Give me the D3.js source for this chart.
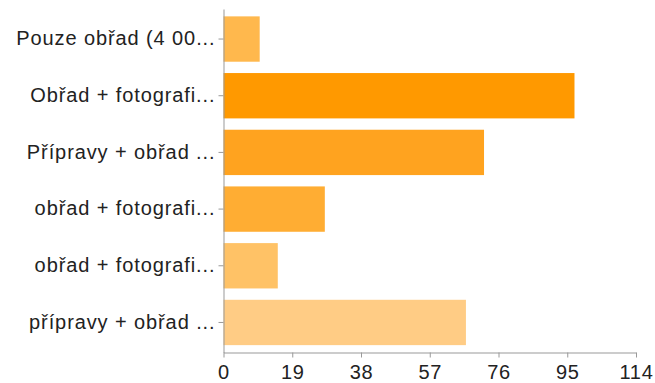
<!DOCTYPE html>
<html>
<head>
<meta charset="utf-8">
<script src="https://cdn.jsdelivr.net/npm/d3@7"></script>
<style>
  html, body { margin: 0; padding: 0; background: #fff; }
  svg { display: block; }
  text { font-family: "Liberation Sans", Arial, Helvetica, sans-serif; }
</style>
</head>
<body>
<div id="chart"></div>
<script>
const categories = [
  "Pouze obřad (4 00...",
  "Obřad + fotografi...",
  "Přípravy + obřad ...",
  "obřad + fotografi...",
  "obřad + fotografi...",
  "přípravy + obřad ..."
];
const values = [10, 97, 72, 28, 15, 67];
const barColors = ["#ffb84d", "#ff9900", "#ffa31f", "#ffad33", "#ffc266", "#ffcc85"];
const tickValues = [0, 19, 38, 57, 76, 95, 114];

const W = 655, H = 383;
const plotLeft = 223.5, plotRight = 636, plotTop = 9, plotBottom = 352.5;

const svg = d3.select("#chart").append("svg")
  .attr("width", W).attr("height", H);

const x = d3.scaleLinear().domain([0, 114]).range([plotLeft, plotRight]);
const y = d3.scaleBand().domain(d3.range(categories.length))
  .range([plotTop, plotBottom]).paddingInner(0.2).paddingOuter(0.13);

// bars
svg.append("g").selectAll("rect")
  .data(values)
  .join("rect")
  .attr("x", x(0))
  .attr("y", (d, i) => y(i))
  .attr("width", d => x(d) - x(0))
  .attr("height", y.bandwidth())
  .attr("fill", (d, i) => barColors[i]);

// x axis
const xAxis = d3.axisBottom(x).tickValues(tickValues).tickSize(5).tickPadding(7).tickSizeOuter(0);
const gx = svg.append("g").attr("transform", `translate(0,${plotBottom})`).call(xAxis);
gx.select(".domain").attr("stroke", "#999");
gx.selectAll(".tick line").attr("stroke", "#999");
gx.selectAll(".tick text")
  .attr("fill", "#222")
  .style("font-size", "20px")
  .style("letter-spacing", "0.7px")
  .style("font-family", '"Liberation Sans", Arial, sans-serif');

// y axis
const yAxis = d3.axisLeft(y).tickFormat(i => categories[i]).tickSize(5).tickPadding(3).tickSizeOuter(0);
const gy = svg.append("g").attr("transform", `translate(${plotLeft},0)`).call(yAxis);
gy.select(".domain").attr("stroke", "#999");
gy.selectAll(".tick line").attr("stroke", "#999");
gy.selectAll(".tick text")
  .attr("fill", "#222")
  .style("font-size", "20px")
  .style("letter-spacing", "0.9px")
  .style("font-family", '"Liberation Sans", Arial, sans-serif');
</script>
</body>
</html>
